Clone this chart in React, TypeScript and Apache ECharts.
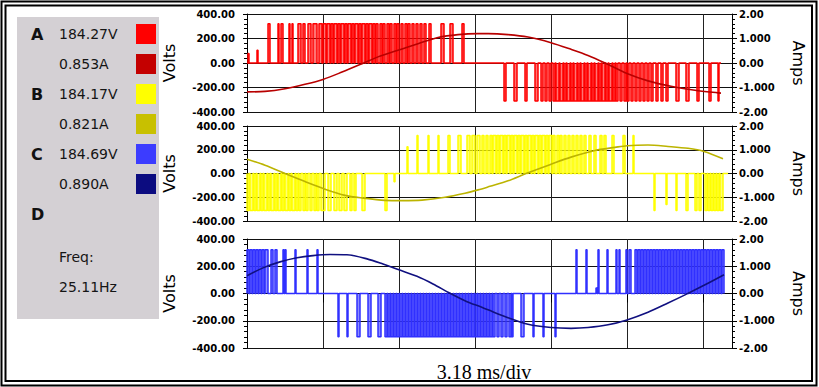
import React, { useEffect, useRef } from "react";
import * as echarts from "echarts";

// x axis in samples: 76 samples per division (3.18 ms/div)
const SAMPLES_PER_DIV = 76;
const X_MAX = 485;

// ---- Phase A (red) ----
const posA: [number, number][] = [[21,23],[31,32],[34,36],[42,43],[45,46],[51,54],[56,58],[61,64],[66,70],[72,75],[76,79],[80,83],[84,86],[87,90],[91,93],[94,97],[98,100],[101,104],[105,107],[108,111],[112,114],[115,118],[119,121],[122,125],[126,128],[129,131],[133,135],[136,138],[140,142],[143,145],[147,149],[150,152],[154,156],[158,160],[161,163],[165,167],[169,171],[173,175],[177,179],[182,184],[194,197],[203,206],[215,217]];
const negA: [number, number][] = [[257,259],[267,270],[278,280],[288,291],[294,296],[298,300],[302,304],[306,308],[309,312],[313,316],[317,319],[320,323],[324,326],[327,330],[331,333],[334,337],[338,340],[341,344],[345,347],[348,351],[352,354],[355,358],[359,361],[362,365],[366,368],[369,371],[373,375],[377,379],[380,382],[384,386],[388,390],[392,394],[396,398],[400,402],[404,406],[409,411],[414,416],[419,421],[429,432],[439,442],[450,452],[462,464],[471,472]];
const partialA: [number, number, number][] = [[1,2,77],[10,11,104]];
const levelA = { pos: 320, neg: -310, end: 474 };
const currentA: [number, number][] = [[0,-1.18],[18,-1.16],[38,-1.05],[58,-0.87],[76,-0.67],[95,-0.37],[115,-0.03],[131,0.25],[151,0.52],[171,0.79],[191,1.04],[211,1.16],[231,1.2],[241,1.2],[261,1.16],[281,1.06],[304,0.83],[324,0.56],[341,0.31],[358,0.0],[380,-0.43],[401,-0.73],[424,-0.95],[448,-1.11],[471,-1.22],[474,-1.23]];

// ---- Phase B (yellow) ----
const posB: [number, number][] = [[170,171],[181,182],[191,192],[201,203],[211,214],[220,223],[225,228],[230,233],[235,237],[239,241],[243,245],[246,249],[250,252],[253,256],[257,259],[260,263],[264,266],[267,270],[271,273],[274,277],[278,280],[281,284],[285,287],[288,291],[292,294],[295,298],[299,301],[302,305],[306,308],[310,312],[313,315],[317,319],[321,323],[325,327],[329,331],[333,335],[337,339],[342,344],[347,349],[353,355],[357,359],[365,367],[376,378],[386,387]];
const negB: [number, number][] = [[0,2],[3,6],[7,9],[10,13],[14,16],[17,20],[21,23],[24,27],[28,30],[31,34],[35,37],[38,41],[42,44],[45,48],[49,51],[52,54],[56,58],[59,61],[63,65],[67,69],[70,72],[74,78],[81,84],[87,90],[92,95],[97,100],[103,105],[107,109],[115,118],[138,140],[407,408],[429,430],[439,441],[448,450],[452,454],[458,460],[461,463],[464,466],[467,469],[470,472],[473,476]];
const partialB: [number, number, number][] = [[147,148,-70],[160,161,225],[419,420,-260]];
const levelB = { pos: 320, neg: -311, end: 481 };
const currentB: [number, number][] = [[0,0.6],[18,0.35],[38,0.0],[58,-0.34],[78,-0.66],[98,-0.92],[115,-1.03],[138,-1.13],[155,-1.14],[175,-1.12],[198,-1.0],[218,-0.83],[231,-0.69],[243,-0.54],[261,-0.31],[279,0.0],[304,0.39],[324,0.69],[348,0.97],[368,1.1],[380,1.17],[401,1.2],[421,1.14],[441,1.06],[457,0.93],[476,0.62]];

// ---- Phase C (blue) ----
const posC: [number, number][] = [[0,2],[3,5],[6,8],[9,11],[12,14],[15,17],[18,21],[24,26],[28,30],[36,37],[38,39],[48,49],[60,61],[70,71],[329,330],[339,340],[351,352],[360,361],[369,370],[372,373],[379,380],[382,384],[388,390],[391,393],[394,396],[397,399],[400,402],[403,405],[406,408],[409,411],[412,414],[415,417],[418,420],[421,423],[424,426],[427,429],[430,432],[433,435],[436,438],[439,441],[442,444],[445,447],[448,450],[451,453],[454,456],[457,459],[460,462],[463,465],[466,468],[469,471],[472,474],[475,477]];
const negC: [number, number][] = [[91,92],[100,101],[110,113],[121,124],[131,134],[138,140],[141,143],[144,146],[147,149],[150,152],[153,155],[156,158],[159,161],[162,164],[165,167],[168,170],[171,173],[174,176],[177,179],[180,182],[183,185],[186,188],[189,191],[192,194],[195,197],[198,200],[201,203],[204,206],[207,209],[210,212],[213,215],[216,218],[219,221],[222,224],[225,227],[228,230],[231,233],[234,236],[237,239],[240,242],[243,245],[246,248],[250,252],[254,256],[258,260],[262,264],[265,266],[274,277],[286,287],[296,297],[308,309]];
const partialC: [number, number, number][] = [[349,350,40]];
const levelC = { pos: 322, neg: -317, end: 477 };
const currentC: [number, number][] = [[0,0.65],[16,0.94],[33,1.16],[50,1.31],[66,1.39],[83,1.43],[100,1.42],[120,1.27],[136,1.08],[152,0.87],[170,0.63],[186,0.35],[203,0.01],[220,-0.3],[233,-0.48],[241,-0.6],[261,-0.89],[281,-1.13],[304,-1.25],[324,-1.28],[341,-1.25],[361,-1.15],[380,-0.97],[401,-0.69],[421,-0.35],[438,-0.05],[458,0.32],[477,0.69]];

// ---- Axis labels ----
const ampTickValues = [-2, -1, 0, 1, 2];
const ampTickLabels = ["-2.00", "-1.000", "0.00", "1.000", "2.00"];

// ---- Legend panel ----
const legendLetters = ["A", "", "B", "", "C", ""];
const legendValues = ["184.27V", "0.853A", "184.17V", "0.821A", "184.69V", "0.890A"];
const legendColors = ["#ff0000", "#c40000", "#ffff00", "#c8c000", "#3c3cff", "#0c0c80"];
const freqLabel = "Freq:";
const freqValue = "25.11Hz";
const timeBase = "3.18 ms/div";

const FONT = "DejaVu Sans";

function pwm(pos: [number, number][], neg: [number, number][], partial: [number, number, number][], lv: { pos: number; neg: number; end: number }) {
  const all: [number, number, number][] = [
    ...pos.map(([s, e]) => [s, e, lv.pos] as [number, number, number]),
    ...neg.map(([s, e]) => [s, e, lv.neg] as [number, number, number]),
    ...partial,
  ].sort((a, b) => a[0] - b[0]);
  const pts: [number, number][] = [[0, 0]];
  for (const [s, e, v] of all) {
    pts.push([s, 0], [s, v], [e, v], [e, 0]);
  }
  pts.push([lv.end, 0]);
  return pts;
}

const phases = [
  { v: pwm(posA, negA, partialA, levelA), i: currentA, vc: "#ff0000", ic: "#b80000" },
  { v: pwm(posB, negB, partialB, levelB), i: currentB, vc: "#ffff00", ic: "#bcb400" },
  { v: pwm(posC, negC, partialC, levelC), i: currentC, vc: "#3030ff", ic: "#101080" },
];

const grids = [
  { top: 14, height: 98 },
  { top: 126, height: 95 },
  { top: 239, height: 109 },
];

export default function App() {
  const ref = useRef<HTMLDivElement>(null);
  useEffect(() => {
    document.body.style.margin = "0";
    const chart = echarts.init(ref.current!, null, { renderer: "svg" });
    const xAxis: any[] = [];
    const yAxis: any[] = [];
    const series: any[] = [];
    grids.forEach((g, i) => {
      xAxis.push({
        type: "value",
        gridIndex: i,
        min: 0,
        max: X_MAX,
        interval: SAMPLES_PER_DIV,
        axisLabel: { show: false },
        axisLine: { show: i === 2, lineStyle: { color: "#000", width: 1 } },
        axisTick: {
          show: i === 2,
          length: 9,
          lineStyle: { color: "#000" },
          customValues: [0, 76, 152, 228, 304, 380, 456],
        },
        splitLine: { show: true, lineStyle: { color: "#222", width: 1 } },
      });
      yAxis.push({
        type: "value",
        gridIndex: i,
        position: "left",
        offset: 8,
        min: -400,
        max: 400,
        interval: 200,
        name: "Volts",
        nameLocation: "middle",
        nameGap: 62,
        nameTextStyle: { fontFamily: FONT, fontSize: 16, color: "#000" },
        axisLine: { show: true, lineStyle: { color: "#000" } },
        axisTick: { show: true, length: 4, lineStyle: { color: "#000" } },
        minorTick: { show: true, splitNumber: 5, length: 3, lineStyle: { color: "#000" } },
        axisLabel: {
          margin: 4,
          fontFamily: FONT,
          fontWeight: "bold",
          fontSize: 10,
          color: "#000",
          formatter: (v: number) => v.toFixed(2),
        },
        splitLine: { show: true, lineStyle: { color: "#111", width: 1 } },
      });
      yAxis.push({
        type: "value",
        gridIndex: i,
        position: "right",
        min: -2,
        max: 2,
        interval: 1,
        name: "Amps",
        nameLocation: "middle",
        nameRotate: -90,
        nameGap: 58,
        nameTextStyle: { fontFamily: FONT, fontSize: 16, color: "#000" },
        axisLine: { show: true, lineStyle: { color: "#000" } },
        axisTick: { show: true, length: 5, lineStyle: { color: "#000" } },
        minorTick: { show: true, splitNumber: 5, length: 3, lineStyle: { color: "#000" } },
        axisLabel: {
          margin: 7,
          fontFamily: FONT,
          fontWeight: "bold",
          fontSize: 10,
          color: "#000",
          formatter: (v: number) => {
            const k = ampTickValues.indexOf(Math.round(v));
            return k >= 0 ? ampTickLabels[k] : "";
          },
        },
        splitLine: { show: false },
      });
      const ph = phases[i];
      series.push({
        type: "line",
        xAxisIndex: i,
        yAxisIndex: 2 * i,
        data: ph.v,
        symbol: "none",
        showSymbol: false,
        lineStyle: { color: ph.vc, width: 1.5, opacity: 1 },
        areaStyle: { color: ph.vc, opacity: 0.55, origin: 0 },
        emphasis: { disabled: true },
        z: 2,
      });
      series.push({
        type: "line",
        xAxisIndex: i,
        yAxisIndex: 2 * i + 1,
        data: ph.i,
        smooth: 0.3,
        symbol: "none",
        showSymbol: false,
        lineStyle: { color: ph.ic, width: 1.6 },
        emphasis: { disabled: true },
        z: 3,
      });
    });

    const valueStyle = { fill: "#151515", fontFamily: FONT, fontSize: 14, align: "left", verticalAlign: "middle", textAlign: "left", textVerticalAlign: "middle" };
    const letterStyle = { fill: "#111", fontFamily: FONT, fontWeight: "bold", fontSize: 16, align: "left", verticalAlign: "middle", textAlign: "left", textVerticalAlign: "middle" };

    const graphic: any[] = [
      { type: "rect", shape: { x: 1.5, y: 1.5, width: 815, height: 384 }, style: { fill: "none", stroke: "#000", lineWidth: 2 }, silent: true },
      { type: "rect", shape: { x: 5.5, y: 5.5, width: 806.5, height: 375.5 }, style: { fill: "none", stroke: "#000", lineWidth: 2 }, silent: true },
      { type: "rect", shape: { x: 17, y: 17, width: 142, height: 302 }, style: { fill: "#d4d0d4" }, silent: true, z: 0 },
    ];
    const rowY = [34, 64, 94, 124, 154, 184];
    rowY.forEach((y, k) => {
      if (legendLetters[k]) {
        graphic.push({ type: "text", x: 31, y, style: { ...letterStyle, text: legendLetters[k] } });
      }
      graphic.push({ type: "text", x: 59, y, style: { ...valueStyle, text: legendValues[k] } });
      graphic.push({
        type: "rect",
        shape: { x: 136, y: y - 10, width: 20, height: 20 },
        style: { fill: legendColors[k] },
      });
    });
    graphic.push({ type: "text", x: 31, y: 214, style: { ...letterStyle, text: "D" } });
    graphic.push({ type: "text", x: 59, y: 257, style: { ...valueStyle, text: freqLabel } });
    graphic.push({ type: "text", x: 59, y: 287, style: { ...valueStyle, text: freqValue } });
    graphic.push({
      type: "text",
      x: 484,
      y: 372,
      style: { text: timeBase, fill: "#000", fontFamily: "Liberation Serif", fontSize: 20, align: "center", verticalAlign: "middle", textAlign: "center", textVerticalAlign: "middle" },
    });

    chart.setOption({
      animation: false,
      backgroundColor: "#fff",
      grid: grids.map((g) => ({ left: 247, width: 485, top: g.top, height: g.height, show: false })),
      xAxis,
      yAxis,
      series,
      graphic,
    });
    return () => chart.dispose();
  }, []);
  return <div ref={ref} style={{ width: 819, height: 387 }} />;
}
